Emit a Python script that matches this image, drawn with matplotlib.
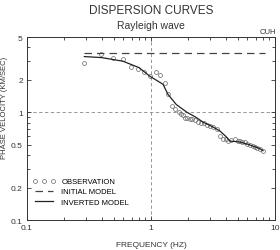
import numpy as np
import matplotlib
matplotlib.use("Agg")
import matplotlib.pyplot as plt
from matplotlib.ticker import LogLocator, FixedLocator, FixedFormatter, NullFormatter

plt.rcParams["font.family"] = ["Liberation Sans", "DejaVu Sans"]

# =========================
# Dados
# =========================
obs_freq = [0.29, 0.395, 0.49, 0.594, 0.69, 0.786, 0.88, 0.98, 1.1, 1.18, 1.3, 1.37,
            1.48, 1.56, 1.68, 1.75, 1.82, 1.88, 1.95, 2.05, 2.15, 2.27, 2.4, 2.55,
            2.7, 2.85, 3.0, 3.16, 3.4, 3.6, 3.8, 4.0, 4.2, 4.45, 4.75, 5.0, 5.2,
            5.45, 5.7, 6.0, 6.3, 6.6, 6.9, 7.2, 7.55, 8.0]
obs_vel = [2.85, 3.46, 3.17, 3.1, 2.62, 2.51, 2.35, 2.16, 2.35, 2.2, 1.86, 1.47,
           1.14, 1.07, 1.0, 0.97, 0.95, 0.88, 0.88, 0.87, 0.86, 0.84, 0.82, 0.79,
           0.79, 0.77, 0.75, 0.73, 0.70, 0.60, 0.57, 0.56, 0.54, 0.55, 0.56, 0.54,
           0.54, 0.53, 0.53, 0.51, 0.50, 0.49, 0.48, 0.47, 0.46, 0.44]

init_freq = [0.29, 8.3]
init_vel = [3.53, 3.53]

inv_freq = [0.29, 0.4, 0.594, 0.8, 0.98, 1.25, 1.37, 1.6, 1.95, 2.3, 2.63, 3.1,
            3.6, 4.0, 4.33, 4.8, 5.2, 6.2, 7.55, 8.0]
inv_vel = [3.29, 3.22, 2.98, 2.6, 2.16, 1.82, 1.47, 1.18, 1.0, 0.9, 0.81, 0.74,
           0.67, 0.6, 0.54, 0.535, 0.53, 0.5, 0.46, 0.44]

ytick_vals = [0.1, 0.2, 0.5, 1, 2, 5]
ytick_labels = ["0.1", "0.2", "0.5", "1", "2", "5"]
xtick_vals = [0.1, 1, 10]
xtick_labels = ["0.1", "1", "10"]

# =========================
# Figura
# =========================
fig = plt.figure(figsize=(2.8, 2.51), dpi=100)
ax = fig.add_axes([0.0964, 0.1195, 0.8857, 0.7291])
ax.set_xscale("log")
ax.set_yscale("log")
ax.set_xlim(0.1, 10)
ax.set_ylim(0.1, 5)

ax.axvline(1, color="#888888", lw=0.6, ls=(0, (4, 3)), zorder=1)
ax.axhline(1, color="#888888", lw=0.6, ls=(0, (4, 3)), zorder=1)

ax.plot(obs_freq, obs_vel, ls="none", marker="o", ms=2.8, mfc="none",
        mec="#666666", mew=0.5, label="OBSERVATION")
ax.plot(init_freq, init_vel, color="#444444", lw=0.9, ls=(0, (6, 4)),
        label="INITIAL MODEL")
ax.plot(inv_freq, inv_vel, color="#222222", lw=0.9, label="INVERTED MODEL")

ax.xaxis.set_major_locator(FixedLocator(xtick_vals))
ax.xaxis.set_major_formatter(FixedFormatter(xtick_labels))
ax.xaxis.set_minor_locator(LogLocator(base=10, subs=np.arange(2, 10)))
ax.xaxis.set_minor_formatter(NullFormatter())
ax.yaxis.set_major_locator(FixedLocator(ytick_vals))
ax.yaxis.set_major_formatter(FixedFormatter(ytick_labels))
ax.yaxis.set_minor_locator(LogLocator(base=10, subs=np.arange(1, 10)))
ax.yaxis.set_minor_formatter(NullFormatter())

ax.tick_params(which="both", direction="in", top=True, right=True,
               labelsize=6, width=0.6, colors="#333333")
ax.tick_params(which="major", length=3, pad=3)
ax.tick_params(which="minor", length=2)
for s in ax.spines.values():
    s.set_linewidth(0.7)
    s.set_color("#333333")

ax.set_xlabel("FREQUENCY (HZ)", fontsize=6, labelpad=7, color="#333333")
ax.set_ylabel("PHASE VELOCITY (KM/SEC)", fontsize=5.5, color="#333333")
ax.yaxis.set_label_coords(-0.075, 0.62)

fig.text(0.54, 0.955, "DISPERSION CURVES", ha="center", va="center", fontsize=8.5, color="#333333")
fig.text(0.54, 0.895, "Rayleigh wave", ha="center", va="center", fontsize=7.5, color="#333333")
fig.text(0.985, 0.87, "CUH", ha="right", va="center", fontsize=5.5, color="#333333")

leg = ax.legend(loc="lower left", bbox_to_anchor=(0.0, 0.05), frameon=False,
                fontsize=5.5, handlelength=3, numpoints=3, labelspacing=0.35,
                handletextpad=0.8, borderaxespad=0.3)

plt.savefig("out.png", dpi=100)
